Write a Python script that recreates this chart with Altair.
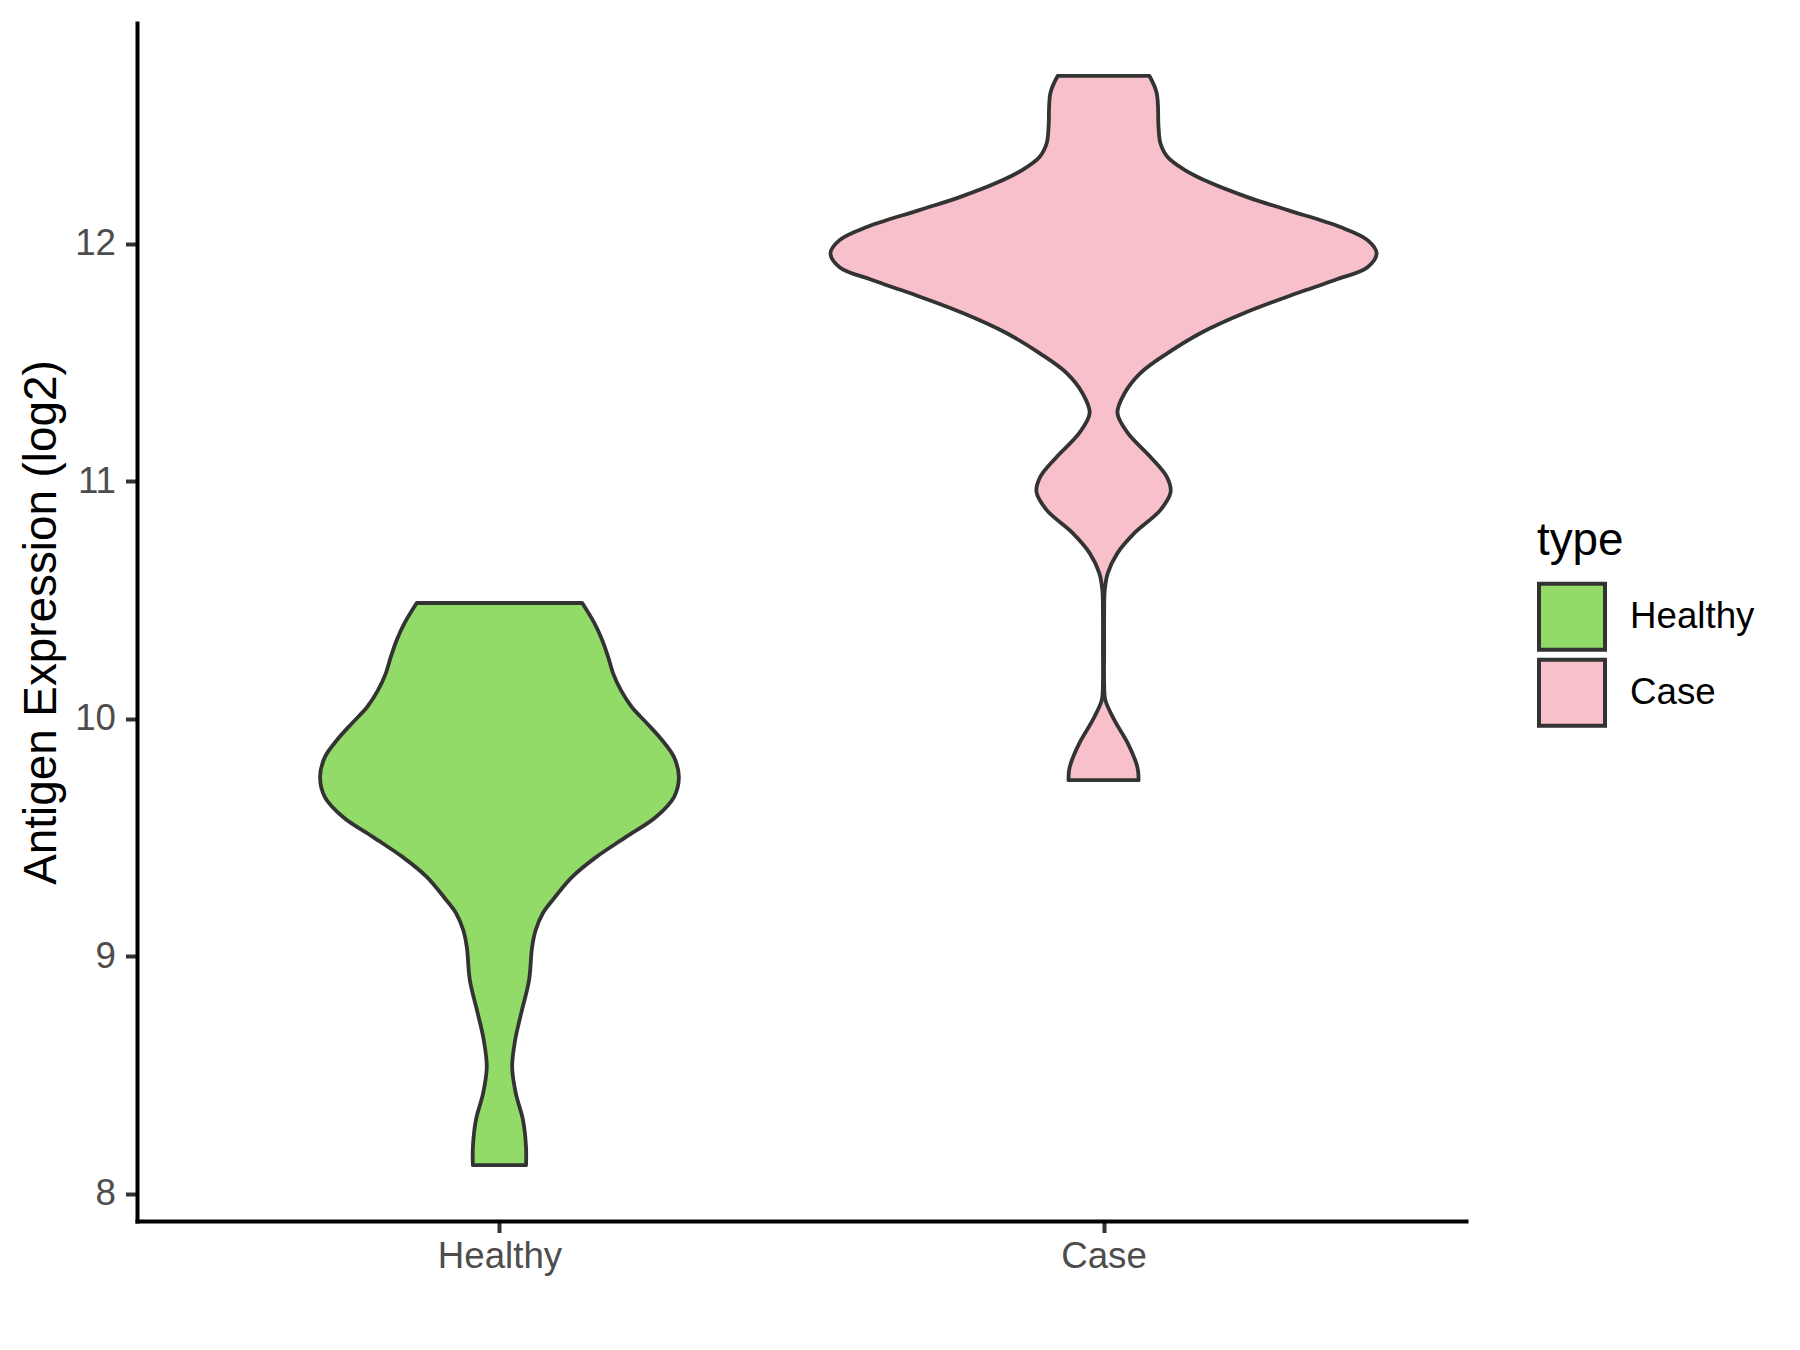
import altair as alt
import pandas as pd

# ---- data ----
categories = ["Healthy", "Case"]
positions = [1, 2]
fill_colors = ["#93DB69", "#F7C0CB"]

healthy_values = [10.487, 10.403, 10.331, 10.259, 10.192, 10.120, 10.049, 9.981, 9.910, 9.838,
                  9.754, 9.670, 9.586, 9.501, 9.417, 9.333, 9.249, 9.182, 9.110, 9.038,
                  8.899, 8.760, 8.647, 8.533, 8.423, 8.310, 8.196, 8.120]
healthy_halfwidth = [0.137, 0.157, 0.170, 0.180, 0.188, 0.201, 0.219, 0.244, 0.269, 0.289,
                     0.297, 0.289, 0.259, 0.209, 0.160, 0.120, 0.092, 0.072, 0.060, 0.054,
                     0.049, 0.036, 0.026, 0.021, 0.027, 0.039, 0.044, 0.044]

case_values = [12.706, 12.634, 12.491, 12.424, 12.365, 12.311, 12.256, 12.196, 12.141, 12.070,
               12.015, 11.960, 11.901, 11.847, 11.792, 11.708, 11.624, 11.539, 11.455, 11.371,
               11.287, 11.203, 11.101, 11.017, 10.954, 10.878, 10.781, 10.697, 10.613, 10.541,
               10.427, 10.289, 10.150, 10.078, 9.994, 9.897, 9.796, 9.741]
case_halfwidth = [0.076, 0.088, 0.091, 0.094, 0.106, 0.134, 0.177, 0.238, 0.305, 0.392,
                  0.437, 0.452, 0.437, 0.383, 0.321, 0.233, 0.161, 0.106, 0.061, 0.035,
                  0.023, 0.040, 0.078, 0.105, 0.111, 0.094, 0.051, 0.023, 0.007, 0.002,
                  0.001, 0.001, 0.001, 0.003, 0.018, 0.040, 0.056, 0.058]

y_ticks = [8, 9, 10, 11, 12]

# ---- table ----
rows = []
for cat, pos, vals, hws in [("Healthy", 1, healthy_values, healthy_halfwidth),
                            ("Case", 2, case_values, case_halfwidth)]:
    for v, h in zip(vals, hws):
        rows.append({"type": cat, "value": v, "lo": pos - h, "hi": pos + h})
df = pd.DataFrame(rows).sort_values(["type", "value"])

FONT = "Liberation Sans, Arial, Helvetica, sans-serif"

label_expr = " : ".join(
    [f"datum.value == {p} ? '{c}'" for p, c in zip(positions, categories)]
) + " : ''"

x_scale = alt.Scale(domain=[0.4, 2.6], nice=False, zero=False)
y_scale = alt.Scale(domain=[7.885, 12.929], nice=False, zero=False)

axis_common = dict(
    domainColor="#000000", domainWidth=4, domainCap="square",
    tickColor="#333333", tickWidth=4, tickSize=11.5,
    labelColor="#4D4D4D", labelFontSize=36.7, labelFont=FONT,
    grid=False,
)

chart = alt.Chart(df).mark_area(
    orient="horizontal", interpolate="catmull-rom",
    stroke="#333333", strokeWidth=3.8, opacity=1, strokeJoin="round"
).encode(
    y=alt.Y("value:Q", scale=y_scale,
            axis=alt.Axis(values=y_ticks, title="Antigen Expression (log2)",
                          titleFontSize=45.8, titleFont=FONT, titleColor="#000000",
                          titleFontWeight="normal", titleX=-81.5, titleY=599,
                          titleAngle=270, titleAlign="center", titleBaseline="alphabetic",
                          labelPadding=10, **axis_common)),
    x=alt.X("lo:Q", scale=x_scale,
            axis=alt.Axis(values=positions, labelExpr=label_expr, title=None,
                          labelPadding=6, labelBaseline="top", **axis_common)),
    x2="hi:Q",
    fill=alt.Fill("type:N", scale=alt.Scale(domain=categories, range=fill_colors),
                  legend=alt.Legend(
                      title="type", orient="none", legendX=1400, legendY=496,
                      titleFontSize=45.8, titleFont=FONT, titleColor="#000000",
                      titleFontWeight="normal", titlePadding=17,
                      labelFontSize=36.7, labelFont=FONT, labelColor="#000000",
                      labelOffset=23, symbolType="square", symbolSize=4356,
                      symbolStrokeColor="#333333", symbolStrokeWidth=4,
                      symbolOpacity=1, rowPadding=-11, padding=0)),
    detail="type:N",
).properties(
    width=1329, height=1198,
    padding={"left": 129, "top": 15, "right": 300, "bottom": 100},
    autosize=alt.AutoSizeParams(type="none"),
    background="white",
).configure_view(stroke=None)

chart.save("out.html", embed_options={"renderer": "svg", "actions": False})
